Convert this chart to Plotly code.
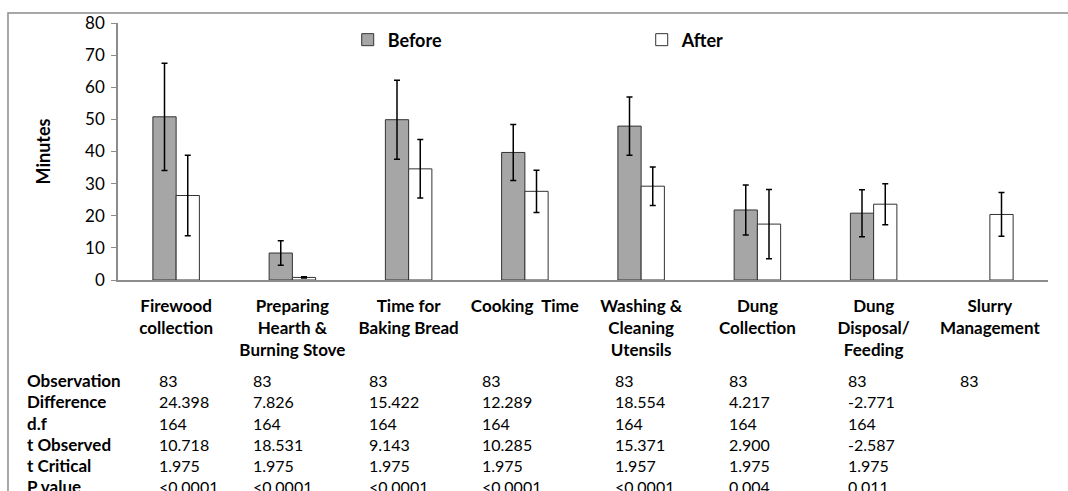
import plotly.graph_objects as go

categories = [
    "Firewood<br>collection",
    "Preparing<br>Hearth &<br>Burning Stove",
    "Time for<br>Baking Bread",
    "Cooking  Time",
    "Washing &<br>Cleaning<br>Utensils",
    "Dung<br>Collection",
    "Dung<br>Disposal/<br>Feeding",
    "Slurry<br>Management",
]
before = [50.8, 8.4, 49.9, 39.7, 47.9, 21.8, 20.8, None]
before_err = [16.7, 3.8, 12.3, 8.7, 9.1, 7.8, 7.3, None]
after = [26.3, 0.8, 34.6, 27.6, 29.2, 17.4, 23.6, 20.4]
after_err = [12.5, 0.2, 9.1, 6.6, 6.0, 10.8, 6.4, 6.8]

row_labels = ["Observation", "Difference", "d.f", "t Observed", "t Critical", "P value"]
table = [
    ["83", "24.398", "164", "10.718", "1.975", "<0.0001"],
    ["83", "7.826", "164", "18.531", "1.975", "<0.0001"],
    ["83", "15.422", "164", "9.143", "1.975", "<0.0001"],
    ["83", "12.289", "164", "10.285", "1.975", "<0.0001"],
    ["83", "18.554", "164", "15.371", "1.957", "<0.0001"],
    ["83", "4.217", "164", "2.900", "1.975", "0.004"],
    ["83", "-2.771", "164", "-2.587", "1.975", "0.011"],
    ["83", "", "", "", "", ""],
]

FONT = "Lato"
fig = go.Figure()
fig.add_trace(go.Bar(
    x=categories, y=before, name="<b>Before</b>",
    marker={"color": "#a6a6a6", "line": {"color": "#333333", "width": 1}},
    error_y={"type": "data", "array": before_err, "color": "black", "thickness": 1.5, "width": 3},
))
fig.add_trace(go.Bar(
    x=categories, y=after, name="<b>After</b>",
    marker={"color": "white", "line": {"color": "#333333", "width": 1}},
    error_y={"type": "data", "array": after_err, "color": "black", "thickness": 1.5, "width": 3},
))

# statistics table under the chart
col_shift = [-19, -41, -42, -45, -28, -30, -28, -32]
row_y = [100, 121, 143, 164, 185, 206]
for r, lab in enumerate(row_labels):
    fig.add_annotation(x=-0.118, xref="paper", y=0, yref="y", text=f"<b>{lab}</b>",
                       xanchor="left", yanchor="middle", yshift=-row_y[r], xshift=17,
                       showarrow=False, font={"size": 17, "color": "black", "family": FONT})
    for c, cat in enumerate(categories):
        val = table[c][r]
        if not val:
            continue
        fig.add_annotation(x=c, y=0, yref="y", text=val, xanchor="left", yanchor="middle",
                           xshift=col_shift[c], yshift=-row_y[r], showarrow=False,
                           font={"size": 16, "color": "black", "family": FONT})

# outer frame
fig.add_shape(type="rect", xref="paper", yref="paper", x0=-0.1183, x1=1.05, y0=-0.9, y1=1.039,
              line={"color": "#8c8c8c", "width": 1.5})

fig.update_layout(
    width=1068, height=491,
    margin={"l": 118, "r": 20, "t": 23, "b": 211},
    paper_bgcolor="white", plot_bgcolor="white",
    barmode="group", bargap=0.6, bargroupgap=0,
    font={"family": FONT, "color": "black"},
    showlegend=True,
    legend={"orientation": "h", "x": 0.247, "y": 0.934, "xanchor": "left", "yanchor": "middle",
            "entrywidth": 249, "font": {"size": 18, "family": FONT}, "bgcolor": "rgba(0,0,0,0)",
            "traceorder": "normal"},
    xaxis={"showline": True, "linecolor": "#8c8c8c", "linewidth": 1.5, "showgrid": False,
           "ticks": "", "ticklabelstandoff": 10},
    yaxis={"range": [0, 80], "dtick": 10, "showline": True, "linecolor": "#8c8c8c", "linewidth": 1.5,
           "showgrid": False, "zeroline": False, "ticks": "outside", "ticklen": 5,
           "tickcolor": "#8c8c8c", "tickfont": {"size": 17, "family": FONT}, "ticklabelstandoff": 3,
           "title": {"text": "<b>Minutes</b>", "font": {"size": 18, "family": FONT}, "standoff": 30}},
)
fig.update_xaxes(tickfont={"family": FONT, "size": 17, "weight": "bold"})
fig.write_html("out.html", config={"displayModeBar": False},
               post_script="document.body.style.margin='0';")
